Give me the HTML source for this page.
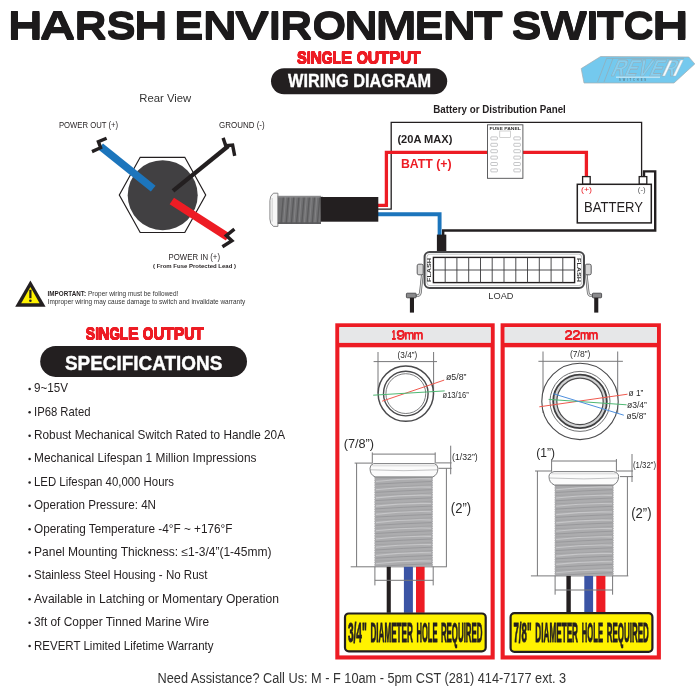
<!DOCTYPE html>
<html><head><meta charset="utf-8"><title>Harsh Environment Switch</title>
<style>
html,body{margin:0;padding:0;background:#fff;}
body{width:700px;height:700px;overflow:hidden;font-family:"Liberation Sans",sans-serif;}
svg{display:block;font-family:"Liberation Sans",sans-serif;will-change:transform;}
</style></head><body>
<svg width="700" height="700" viewBox="0 0 700 700">
<rect width="700" height="700" fill="#fff"/>
<!-- title -->
<g font-size="100" font-weight="bold" fill="#1c1a1b">
<text transform="translate(7.77,38.40) scale(0.4831,0.3837)">H</text>
<text transform="translate(7.77,39.20) scale(0.4831,0.3837)">H</text>
<text transform="translate(7.77,40.00) scale(0.4831,0.3837)">H</text>
<text transform="translate(39.77,38.40) scale(0.4949,0.3837)">A</text>
<text transform="translate(39.77,39.20) scale(0.4949,0.3837)">A</text>
<text transform="translate(39.77,40.00) scale(0.4949,0.3837)">A</text>
<text transform="translate(74.42,38.40) scale(0.4458,0.3837)">R</text>
<text transform="translate(74.42,39.20) scale(0.4458,0.3837)">R</text>
<text transform="translate(74.42,40.00) scale(0.4458,0.3837)">R</text>
<text transform="translate(106.53,38.40) scale(0.4406,0.3837)">S</text>
<text transform="translate(106.53,39.20) scale(0.4406,0.3837)">S</text>
<text transform="translate(106.53,40.00) scale(0.4406,0.3837)">S</text>
<text transform="translate(133.90,38.40) scale(0.4627,0.3837)">H</text>
<text transform="translate(133.90,39.20) scale(0.4627,0.3837)">H</text>
<text transform="translate(133.90,40.00) scale(0.4627,0.3837)">H</text>
<text transform="translate(174.02,38.40) scale(0.4456,0.3837)">E</text>
<text transform="translate(174.02,39.20) scale(0.4456,0.3837)">E</text>
<text transform="translate(174.02,40.00) scale(0.4456,0.3837)">E</text>
<text transform="translate(202.84,38.40) scale(0.4729,0.3837)">N</text>
<text transform="translate(202.84,39.20) scale(0.4729,0.3837)">N</text>
<text transform="translate(202.84,40.00) scale(0.4729,0.3837)">N</text>
<text transform="translate(234.85,38.40) scale(0.5174,0.3837)">V</text>
<text transform="translate(234.85,39.20) scale(0.5174,0.3837)">V</text>
<text transform="translate(234.85,40.00) scale(0.5174,0.3837)">V</text>
<text transform="translate(268.63,38.40) scale(0.4443,0.3837)">I</text>
<text transform="translate(268.63,39.20) scale(0.4443,0.3837)">I</text>
<text transform="translate(268.63,40.00) scale(0.4443,0.3837)">I</text>
<text transform="translate(280.12,38.40) scale(0.4458,0.3837)">R</text>
<text transform="translate(280.12,39.20) scale(0.4458,0.3837)">R</text>
<text transform="translate(280.12,40.00) scale(0.4458,0.3837)">R</text>
<text transform="translate(312.21,38.40) scale(0.4375,0.3837)">O</text>
<text transform="translate(312.21,39.20) scale(0.4375,0.3837)">O</text>
<text transform="translate(312.21,40.00) scale(0.4375,0.3837)">O</text>
<text transform="translate(344.37,38.40) scale(0.4678,0.3837)">N</text>
<text transform="translate(344.37,39.20) scale(0.4678,0.3837)">N</text>
<text transform="translate(344.37,40.00) scale(0.4678,0.3837)">N</text>
<text transform="translate(375.58,38.40) scale(0.4963,0.3837)">M</text>
<text transform="translate(375.58,39.20) scale(0.4963,0.3837)">M</text>
<text transform="translate(375.58,40.00) scale(0.4963,0.3837)">M</text>
<text transform="translate(414.48,38.40) scale(0.4367,0.3837)">E</text>
<text transform="translate(414.48,39.20) scale(0.4367,0.3837)">E</text>
<text transform="translate(414.48,40.00) scale(0.4367,0.3837)">E</text>
<text transform="translate(442.63,38.40) scale(0.4593,0.3837)">N</text>
<text transform="translate(442.63,39.20) scale(0.4593,0.3837)">N</text>
<text transform="translate(442.63,40.00) scale(0.4593,0.3837)">N</text>
<text transform="translate(473.46,38.40) scale(0.4806,0.3837)">T</text>
<text transform="translate(473.46,39.20) scale(0.4806,0.3837)">T</text>
<text transform="translate(473.46,40.00) scale(0.4806,0.3837)">T</text>
<text transform="translate(511.60,38.40) scale(0.4523,0.3837)">S</text>
<text transform="translate(511.60,39.20) scale(0.4523,0.3837)">S</text>
<text transform="translate(511.60,40.00) scale(0.4523,0.3837)">S</text>
<text transform="translate(540.55,38.40) scale(0.4937,0.3837)">W</text>
<text transform="translate(540.55,39.20) scale(0.4937,0.3837)">W</text>
<text transform="translate(540.55,40.00) scale(0.4937,0.3837)">W</text>
<text transform="translate(586.03,38.40) scale(0.4582,0.3837)">I</text>
<text transform="translate(586.03,39.20) scale(0.4582,0.3837)">I</text>
<text transform="translate(586.03,40.00) scale(0.4582,0.3837)">I</text>
<text transform="translate(596.60,38.40) scale(0.4466,0.3837)">T</text>
<text transform="translate(596.60,39.20) scale(0.4466,0.3837)">T</text>
<text transform="translate(596.60,40.00) scale(0.4466,0.3837)">T</text>
<text transform="translate(623.36,38.40) scale(0.4252,0.3837)">C</text>
<text transform="translate(623.36,39.20) scale(0.4252,0.3837)">C</text>
<text transform="translate(623.36,40.00) scale(0.4252,0.3837)">C</text>
<text transform="translate(652.33,38.40) scale(0.5035,0.3837)">H</text>
<text transform="translate(652.33,39.20) scale(0.5035,0.3837)">H</text>
<text transform="translate(652.33,40.00) scale(0.5035,0.3837)">H</text>
</g>
<g font-size="100" font-weight="bold" fill="#ed1c24">
<text transform="translate(296.78,63.40) scale(0.1469,0.1613)">S</text>
<text transform="translate(297.03,63.40) scale(0.1469,0.1613)">S</text>
<text transform="translate(297.28,63.40) scale(0.1469,0.1613)">S</text>
<text transform="translate(296.78,63.80) scale(0.1469,0.1613)">S</text>
<text transform="translate(297.03,63.80) scale(0.1469,0.1613)">S</text>
<text transform="translate(297.28,63.80) scale(0.1469,0.1613)">S</text>
<text transform="translate(296.78,64.20) scale(0.1469,0.1613)">S</text>
<text transform="translate(297.03,64.20) scale(0.1469,0.1613)">S</text>
<text transform="translate(297.28,64.20) scale(0.1469,0.1613)">S</text>
<text transform="translate(306.52,63.40) scale(0.1458,0.1613)">I</text>
<text transform="translate(306.77,63.40) scale(0.1458,0.1613)">I</text>
<text transform="translate(307.02,63.40) scale(0.1458,0.1613)">I</text>
<text transform="translate(306.52,63.80) scale(0.1458,0.1613)">I</text>
<text transform="translate(306.77,63.80) scale(0.1458,0.1613)">I</text>
<text transform="translate(307.02,63.80) scale(0.1458,0.1613)">I</text>
<text transform="translate(306.52,64.20) scale(0.1458,0.1613)">I</text>
<text transform="translate(306.77,64.20) scale(0.1458,0.1613)">I</text>
<text transform="translate(307.02,64.20) scale(0.1458,0.1613)">I</text>
<text transform="translate(310.14,63.40) scale(0.1582,0.1613)">N</text>
<text transform="translate(310.39,63.40) scale(0.1582,0.1613)">N</text>
<text transform="translate(310.64,63.40) scale(0.1582,0.1613)">N</text>
<text transform="translate(310.14,63.80) scale(0.1582,0.1613)">N</text>
<text transform="translate(310.39,63.80) scale(0.1582,0.1613)">N</text>
<text transform="translate(310.64,63.80) scale(0.1582,0.1613)">N</text>
<text transform="translate(310.14,64.20) scale(0.1582,0.1613)">N</text>
<text transform="translate(310.39,64.20) scale(0.1582,0.1613)">N</text>
<text transform="translate(310.64,64.20) scale(0.1582,0.1613)">N</text>
<text transform="translate(321.42,63.40) scale(0.1408,0.1613)">G</text>
<text transform="translate(321.67,63.40) scale(0.1408,0.1613)">G</text>
<text transform="translate(321.92,63.40) scale(0.1408,0.1613)">G</text>
<text transform="translate(321.42,63.80) scale(0.1408,0.1613)">G</text>
<text transform="translate(321.67,63.80) scale(0.1408,0.1613)">G</text>
<text transform="translate(321.92,63.80) scale(0.1408,0.1613)">G</text>
<text transform="translate(321.42,64.20) scale(0.1408,0.1613)">G</text>
<text transform="translate(321.67,64.20) scale(0.1408,0.1613)">G</text>
<text transform="translate(321.92,64.20) scale(0.1408,0.1613)">G</text>
<text transform="translate(332.25,63.40) scale(0.1422,0.1613)">L</text>
<text transform="translate(332.50,63.40) scale(0.1422,0.1613)">L</text>
<text transform="translate(332.75,63.40) scale(0.1422,0.1613)">L</text>
<text transform="translate(332.25,63.80) scale(0.1422,0.1613)">L</text>
<text transform="translate(332.50,63.80) scale(0.1422,0.1613)">L</text>
<text transform="translate(332.75,63.80) scale(0.1422,0.1613)">L</text>
<text transform="translate(332.25,64.20) scale(0.1422,0.1613)">L</text>
<text transform="translate(332.50,64.20) scale(0.1422,0.1613)">L</text>
<text transform="translate(332.75,64.20) scale(0.1422,0.1613)">L</text>
<text transform="translate(340.87,63.40) scale(0.1693,0.1613)">E</text>
<text transform="translate(341.12,63.40) scale(0.1693,0.1613)">E</text>
<text transform="translate(341.37,63.40) scale(0.1693,0.1613)">E</text>
<text transform="translate(340.87,63.80) scale(0.1693,0.1613)">E</text>
<text transform="translate(341.12,63.80) scale(0.1693,0.1613)">E</text>
<text transform="translate(341.37,63.80) scale(0.1693,0.1613)">E</text>
<text transform="translate(340.87,64.20) scale(0.1693,0.1613)">E</text>
<text transform="translate(341.12,64.20) scale(0.1693,0.1613)">E</text>
<text transform="translate(341.37,64.20) scale(0.1693,0.1613)">E</text>
<text transform="translate(356.41,63.40) scale(0.1439,0.1613)">O</text>
<text transform="translate(356.66,63.40) scale(0.1439,0.1613)">O</text>
<text transform="translate(356.91,63.40) scale(0.1439,0.1613)">O</text>
<text transform="translate(356.41,63.80) scale(0.1439,0.1613)">O</text>
<text transform="translate(356.66,63.80) scale(0.1439,0.1613)">O</text>
<text transform="translate(356.91,63.80) scale(0.1439,0.1613)">O</text>
<text transform="translate(356.41,64.20) scale(0.1439,0.1613)">O</text>
<text transform="translate(356.66,64.20) scale(0.1439,0.1613)">O</text>
<text transform="translate(356.91,64.20) scale(0.1439,0.1613)">O</text>
<text transform="translate(367.55,63.40) scale(0.1581,0.1613)">U</text>
<text transform="translate(367.80,63.40) scale(0.1581,0.1613)">U</text>
<text transform="translate(368.05,63.40) scale(0.1581,0.1613)">U</text>
<text transform="translate(367.55,63.80) scale(0.1581,0.1613)">U</text>
<text transform="translate(367.80,63.80) scale(0.1581,0.1613)">U</text>
<text transform="translate(368.05,63.80) scale(0.1581,0.1613)">U</text>
<text transform="translate(367.55,64.20) scale(0.1581,0.1613)">U</text>
<text transform="translate(367.80,64.20) scale(0.1581,0.1613)">U</text>
<text transform="translate(368.05,64.20) scale(0.1581,0.1613)">U</text>
<text transform="translate(378.41,63.40) scale(0.1732,0.1613)">T</text>
<text transform="translate(378.66,63.40) scale(0.1732,0.1613)">T</text>
<text transform="translate(378.91,63.40) scale(0.1732,0.1613)">T</text>
<text transform="translate(378.41,63.80) scale(0.1732,0.1613)">T</text>
<text transform="translate(378.66,63.80) scale(0.1732,0.1613)">T</text>
<text transform="translate(378.91,63.80) scale(0.1732,0.1613)">T</text>
<text transform="translate(378.41,64.20) scale(0.1732,0.1613)">T</text>
<text transform="translate(378.66,64.20) scale(0.1732,0.1613)">T</text>
<text transform="translate(378.91,64.20) scale(0.1732,0.1613)">T</text>
<text transform="translate(388.88,63.40) scale(0.1679,0.1613)">P</text>
<text transform="translate(389.13,63.40) scale(0.1679,0.1613)">P</text>
<text transform="translate(389.38,63.40) scale(0.1679,0.1613)">P</text>
<text transform="translate(388.88,63.80) scale(0.1679,0.1613)">P</text>
<text transform="translate(389.13,63.80) scale(0.1679,0.1613)">P</text>
<text transform="translate(389.38,63.80) scale(0.1679,0.1613)">P</text>
<text transform="translate(388.88,64.20) scale(0.1679,0.1613)">P</text>
<text transform="translate(389.13,64.20) scale(0.1679,0.1613)">P</text>
<text transform="translate(389.38,64.20) scale(0.1679,0.1613)">P</text>
<text transform="translate(399.89,63.40) scale(0.1514,0.1613)">U</text>
<text transform="translate(400.14,63.40) scale(0.1514,0.1613)">U</text>
<text transform="translate(400.39,63.40) scale(0.1514,0.1613)">U</text>
<text transform="translate(399.89,63.80) scale(0.1514,0.1613)">U</text>
<text transform="translate(400.14,63.80) scale(0.1514,0.1613)">U</text>
<text transform="translate(400.39,63.80) scale(0.1514,0.1613)">U</text>
<text transform="translate(399.89,64.20) scale(0.1514,0.1613)">U</text>
<text transform="translate(400.14,64.20) scale(0.1514,0.1613)">U</text>
<text transform="translate(400.39,64.20) scale(0.1514,0.1613)">U</text>
<text transform="translate(410.11,63.40) scale(0.1698,0.1613)">T</text>
<text transform="translate(410.36,63.40) scale(0.1698,0.1613)">T</text>
<text transform="translate(410.61,63.40) scale(0.1698,0.1613)">T</text>
<text transform="translate(410.11,63.80) scale(0.1698,0.1613)">T</text>
<text transform="translate(410.36,63.80) scale(0.1698,0.1613)">T</text>
<text transform="translate(410.61,63.80) scale(0.1698,0.1613)">T</text>
<text transform="translate(410.11,64.20) scale(0.1698,0.1613)">T</text>
<text transform="translate(410.36,64.20) scale(0.1698,0.1613)">T</text>
<text transform="translate(410.61,64.20) scale(0.1698,0.1613)">T</text>
</g>
<rect x="271" y="68.3" width="176.2" height="26" rx="13" fill="#231f20"/>
<text x="288.0" y="87.3" font-size="17.6" fill="#fff" font-weight="bold" text-anchor="start" textLength="143" lengthAdjust="spacingAndGlyphs" stroke="#fff" stroke-width="0.35">WIRING DIAGRAM</text>
<!-- logo -->
<g>
<polygon points="600.6,56.5 688.8,57 694.8,63.9 674,83 584,83 581.2,68.6" fill="#74c9ee" stroke="#a3acb0" stroke-width="0.7" stroke-linejoin="round"/>
<path d="M606.6 58.4 L597.6 82 M613 58.4 L604 82 M606.6 58.4 H684" stroke="#97a9b2" stroke-width="0.7" fill="none"/>
<g transform="translate(610,75.6) skewX(-24)">
<text x="0" y="0" font-size="23.5" font-weight="bold" textLength="64" lengthAdjust="spacingAndGlyphs" fill="#86cff0" stroke="#97a9b2" stroke-width="0.6">REVER</text>
</g>
<polygon points="669.6,60.4 672.2,60.4 665,76 662.4,76" fill="#f4fbfe" stroke="#a9b7bd" stroke-width="0.4"/>
<polygon points="680.6,60 683.4,60 675.8,76 673,76" fill="#f4fbfe" stroke="#a9b7bd" stroke-width="0.4"/>
<rect x="616" y="76.7" width="44" height="0.9" fill="#e4f4fb"/>
<text x="619" y="80.8" font-size="2.6" font-weight="bold" fill="#5f7f8c" textLength="27" lengthAdjust="spacing">SWITCHES</text>
</g>
<!-- rear view -->
<text x="165.3" y="102.3" font-size="11.3" fill="#333" font-weight="normal" text-anchor="middle" >Rear View</text>
<text x="58.9" y="127.7" font-size="9.6" fill="#231f20" font-weight="normal" text-anchor="start" textLength="59.3" lengthAdjust="spacingAndGlyphs" >POWER OUT (+)</text>
<text x="219" y="127.7" font-size="9.6" fill="#231f20" font-weight="normal" text-anchor="start" textLength="45.6" lengthAdjust="spacingAndGlyphs" >GROUND (-)</text>
<polygon points="119.3,195 140.2,157.3 184.8,157.3 205.7,195 184.8,232.5 140.2,232.5" fill="#fff" stroke="#231f20" stroke-width="1.2"/>
<circle cx="162.7" cy="195.2" r="35" fill="#414042"/>
<line x1="100.6" y1="146.5" x2="153.2" y2="188.6" stroke="#1c75bc" stroke-width="7.6"/>
<path d="M92 151.6 L100.6 147.7 L98.4 141.7 L106.6 138.3" fill="none" stroke="#231f20" stroke-width="3.4" stroke-linejoin="miter"/>
<line x1="173" y1="190.8" x2="228.3" y2="146" stroke="#231f20" stroke-width="4.3"/>
<path d="M223.1 137.9 L225.7 145.6 L232.6 145.1 L234.7 155.9" fill="none" stroke="#231f20" stroke-width="3.4" stroke-linejoin="miter"/>
<line x1="171.8" y1="201" x2="228" y2="237.1" stroke="#ed1c24" stroke-width="8"/>
<path d="M234.4 229.1 L226.3 235.6 L231.9 240.7 L222.4 246.7" fill="none" stroke="#231f20" stroke-width="3.4" stroke-linejoin="miter"/>
<text x="168.6" y="260.4" font-size="9.6" fill="#231f20" font-weight="normal" text-anchor="start" textLength="51.4" lengthAdjust="spacingAndGlyphs" >POWER IN (+)</text>
<text x="153" y="268" font-size="6.1" fill="#231f20" font-weight="bold" text-anchor="start" textLength="83" lengthAdjust="spacingAndGlyphs" >( From Fuse Protected Lead )</text>
<!-- warning -->
<polygon points="30.4,280.6 45.6,306.8 15.2,306.8" fill="#231f20"/>
<polygon points="30.4,287 39.6,303.2 21.2,303.2" fill="#fff200"/>
<rect x="29.3" y="289.8" width="2.2" height="8.4" fill="#231f20"/><circle cx="30.4" cy="300.7" r="1.3" fill="#231f20"/>
<text x="47.6" y="296" font-size="6.7" fill="#231f20" font-weight="bold" text-anchor="start" textLength="38.4" lengthAdjust="spacingAndGlyphs" >IMPORTANT:</text>
<text x="88" y="296" font-size="6.7" fill="#333" font-weight="normal" text-anchor="start" textLength="90.3" lengthAdjust="spacingAndGlyphs" >Proper wiring must be followed!</text>
<text x="47.6" y="303.9" font-size="6.7" fill="#333" font-weight="normal" text-anchor="start" textLength="197.6" lengthAdjust="spacingAndGlyphs" >Improper wiring may cause damage to switch and invalidate warranty</text>
<!-- wiring diagram -->
<text x="433.3" y="112.6" font-size="10.6" fill="#231f20" font-weight="bold" text-anchor="start" textLength="132.5" lengthAdjust="spacingAndGlyphs" >Battery or Distribution Panel</text>
<path d="M378 209.1 H391.2 V122.4 H641.6 V176.5" fill="none" stroke="#231f20" stroke-width="1.3"/>
<path d="M378 205.4 H386.4 V152.4 H488 M522.6 152.4 H586.4 V176.5" fill="none" stroke="#ed1c24" stroke-width="3.3" stroke-linejoin="miter"/>
<path d="M378 214.2 H439.6 V235" fill="none" stroke="#1c75bc" stroke-width="3.9"/>
<path d="M644 177 V171.4 H655.2 V230.5 H443.2 V236" fill="none" stroke="#231f20" stroke-width="2.4"/>
<text x="397.4" y="143.1" font-size="11.2" fill="#231f20" font-weight="bold" text-anchor="start" textLength="55" lengthAdjust="spacingAndGlyphs" >(20A MAX)</text>
<text x="400.9" y="168.2" font-size="12" fill="#ed1c24" font-weight="bold" text-anchor="start" textLength="50.7" lengthAdjust="spacingAndGlyphs" >BATT (+)</text>
<rect x="487.5" y="124.8" width="35.4" height="53.5" fill="#fff" stroke="#4d4d4f" stroke-width="0.9"/>
<text x="489.4" y="129.8" font-size="4.4" fill="#333" font-weight="bold" text-anchor="start" textLength="31.5" lengthAdjust="spacingAndGlyphs" >FUSE PANEL</text>
<rect x="499.8" y="131" width="10.8" height="6.3" fill="#fff" stroke="#b3b3b3" stroke-width="0.6"/>
<rect x="490.8" y="136.9" width="6.6" height="3" rx="0.8" fill="#fff" stroke="#9d9fa2" stroke-width="0.6"/>
<rect x="513.8" y="136.9" width="6.6" height="3" rx="0.8" fill="#fff" stroke="#9d9fa2" stroke-width="0.6"/>
<rect x="490.8" y="143.3" width="6.6" height="3" rx="0.8" fill="#fff" stroke="#9d9fa2" stroke-width="0.6"/>
<rect x="513.8" y="143.3" width="6.6" height="3" rx="0.8" fill="#fff" stroke="#9d9fa2" stroke-width="0.6"/>
<rect x="490.8" y="149.7" width="6.6" height="3" rx="0.8" fill="#fff" stroke="#9d9fa2" stroke-width="0.6"/>
<rect x="513.8" y="149.7" width="6.6" height="3" rx="0.8" fill="#fff" stroke="#9d9fa2" stroke-width="0.6"/>
<rect x="490.8" y="156.1" width="6.6" height="3" rx="0.8" fill="#fff" stroke="#9d9fa2" stroke-width="0.6"/>
<rect x="513.8" y="156.1" width="6.6" height="3" rx="0.8" fill="#fff" stroke="#9d9fa2" stroke-width="0.6"/>
<rect x="490.8" y="162.5" width="6.6" height="3" rx="0.8" fill="#fff" stroke="#9d9fa2" stroke-width="0.6"/>
<rect x="513.8" y="162.5" width="6.6" height="3" rx="0.8" fill="#fff" stroke="#9d9fa2" stroke-width="0.6"/>
<rect x="490.8" y="168.9" width="6.6" height="3" rx="0.8" fill="#fff" stroke="#9d9fa2" stroke-width="0.6"/>
<rect x="513.8" y="168.9" width="6.6" height="3" rx="0.8" fill="#fff" stroke="#9d9fa2" stroke-width="0.6"/>
<rect x="577.3" y="184.3" width="74" height="38.6" fill="#fff" stroke="#231f20" stroke-width="1.5"/>
<rect x="582.6" y="176.6" width="7.6" height="7.4" fill="#fff" stroke="#231f20" stroke-width="1.3"/>
<rect x="639.2" y="176.6" width="7.6" height="7.4" fill="#fff" stroke="#231f20" stroke-width="1.3"/>
<text x="581" y="192.4" font-size="7.2" fill="#ed1c24" font-weight="normal" text-anchor="start" textLength="11" lengthAdjust="spacingAndGlyphs" >(+)</text>
<text x="637.8" y="192.4" font-size="7.2" fill="#58595b" font-weight="normal" text-anchor="start" textLength="7.8" lengthAdjust="spacingAndGlyphs" >(-)</text>
<text x="584" y="211.6" font-size="14.2" fill="#231f20" font-weight="normal" text-anchor="start" textLength="59" lengthAdjust="spacingAndGlyphs" >BATTERY</text>
<path d="M273.4 193.2 H277.9 V226.4 H273.4 Q269.9 224 269.9 219 V200.6 Q269.9 195.6 273.4 193.2 Z" fill="#f7f7f7" stroke="#7d7d7f" stroke-width="0.9"/>
<path d="M272.2 198 V221.6" stroke="#cfcfcf" stroke-width="1" fill="none"/>
<rect x="277.8" y="195.9" width="43.2" height="28" fill="#707072"/>
<line x1="283.4" y1="196.2" x2="281.0" y2="223.6" stroke="#5b5b5d" stroke-width="1.3"/>
<line x1="285.6" y1="196.2" x2="283.6" y2="223.6" stroke="#858587" stroke-width="0.9"/>
<line x1="288.6" y1="196.2" x2="286.2" y2="223.6" stroke="#5b5b5d" stroke-width="1.3"/>
<line x1="290.8" y1="196.2" x2="288.8" y2="223.6" stroke="#858587" stroke-width="0.9"/>
<line x1="293.8" y1="196.2" x2="291.4" y2="223.6" stroke="#5b5b5d" stroke-width="1.3"/>
<line x1="296.0" y1="196.2" x2="294.0" y2="223.6" stroke="#858587" stroke-width="0.9"/>
<line x1="299.0" y1="196.2" x2="296.6" y2="223.6" stroke="#5b5b5d" stroke-width="1.3"/>
<line x1="301.2" y1="196.2" x2="299.2" y2="223.6" stroke="#858587" stroke-width="0.9"/>
<line x1="304.2" y1="196.2" x2="301.8" y2="223.6" stroke="#5b5b5d" stroke-width="1.3"/>
<line x1="306.4" y1="196.2" x2="304.4" y2="223.6" stroke="#858587" stroke-width="0.9"/>
<line x1="309.4" y1="196.2" x2="307.0" y2="223.6" stroke="#5b5b5d" stroke-width="1.3"/>
<line x1="311.6" y1="196.2" x2="309.6" y2="223.6" stroke="#858587" stroke-width="0.9"/>
<line x1="314.6" y1="196.2" x2="312.2" y2="223.6" stroke="#5b5b5d" stroke-width="1.3"/>
<line x1="316.8" y1="196.2" x2="314.8" y2="223.6" stroke="#858587" stroke-width="0.9"/>
<line x1="319.8" y1="196.2" x2="317.4" y2="223.6" stroke="#5b5b5d" stroke-width="1.3"/>
<line x1="322.0" y1="196.2" x2="320.0" y2="223.6" stroke="#858587" stroke-width="0.9"/>
<rect x="277.8" y="195.9" width="43.2" height="1.6" fill="#8a8a8c"/>
<rect x="277.8" y="222.3" width="43.2" height="1.6" fill="#5a5a5c"/>
<rect x="320.6" y="197" width="57.7" height="24.7" fill="#231f20"/>
<rect x="436.9" y="234.6" width="9.4" height="16.6" fill="#231f20"/>
<rect x="424.6" y="251.9" width="159.4" height="36" rx="5" fill="#fff" stroke="#48484a" stroke-width="2"/>
<rect x="426.9" y="254.2" width="154.8" height="31.4" rx="3" fill="none" stroke="#9a9c9e" stroke-width="0.6"/>
<rect x="433.4" y="257.4" width="141.2" height="25.2" fill="#fff" stroke="#231f20" stroke-width="1.4"/>
<line x1="433.4" y1="270" x2="574.6" y2="270" stroke="#3a3a3c" stroke-width="0.9"/>
<line x1="445.2" y1="257.4" x2="445.2" y2="282.6" stroke="#3a3a3c" stroke-width="0.9"/>
<line x1="456.9" y1="257.4" x2="456.9" y2="282.6" stroke="#3a3a3c" stroke-width="0.9"/>
<line x1="468.7" y1="257.4" x2="468.7" y2="282.6" stroke="#3a3a3c" stroke-width="0.9"/>
<line x1="480.5" y1="257.4" x2="480.5" y2="282.6" stroke="#3a3a3c" stroke-width="0.9"/>
<line x1="492.2" y1="257.4" x2="492.2" y2="282.6" stroke="#3a3a3c" stroke-width="0.9"/>
<line x1="504.0" y1="257.4" x2="504.0" y2="282.6" stroke="#3a3a3c" stroke-width="0.9"/>
<line x1="515.8" y1="257.4" x2="515.8" y2="282.6" stroke="#3a3a3c" stroke-width="0.9"/>
<line x1="527.5" y1="257.4" x2="527.5" y2="282.6" stroke="#3a3a3c" stroke-width="0.9"/>
<line x1="539.3" y1="257.4" x2="539.3" y2="282.6" stroke="#3a3a3c" stroke-width="0.9"/>
<line x1="551.1" y1="257.4" x2="551.1" y2="282.6" stroke="#3a3a3c" stroke-width="0.9"/>
<line x1="562.8" y1="257.4" x2="562.8" y2="282.6" stroke="#3a3a3c" stroke-width="0.9"/>
<text transform="translate(430.9,282) rotate(-90)" font-size="5.4" font-weight="bold" fill="#333" textLength="24" lengthAdjust="spacingAndGlyphs">FLASH</text>
<text transform="translate(577.2,258) rotate(90)" font-size="5.4" font-weight="bold" fill="#333" textLength="24" lengthAdjust="spacingAndGlyphs">FLASH</text>
<path d="M422.4 274 L420.4 292.6 Q420 295.6 417 295.8 L408 296" fill="none" stroke="#5f6062" stroke-width="2.6"/>
<path d="M422.4 274 L420.4 292.6 Q420 295.6 417 295.8 L408 296" fill="none" stroke="#d9d9d9" stroke-width="1.2"/>
<rect x="417.2" y="264.2" width="6" height="10.6" rx="1.6" fill="#d4d4d4" stroke="#4d4d4f" stroke-width="0.9"/>
<rect x="406.4" y="293.2" width="9.8" height="4.6" rx="0.8" fill="#8a8a8c" stroke="#3a3a3c" stroke-width="0.8"/>
<rect x="409.9" y="297.8" width="4.1" height="14.8" fill="#231f20"/>
<path d="M586.2 274 L588.2 292.6 Q588.6 295.6 591.6 295.8 L600.6 296" fill="none" stroke="#5f6062" stroke-width="2.6"/>
<path d="M586.2 274 L588.2 292.6 Q588.6 295.6 591.6 295.8 L600.6 296" fill="none" stroke="#d9d9d9" stroke-width="1.2"/>
<rect x="585.2" y="264.2" width="6" height="10.6" rx="1.6" fill="#d4d4d4" stroke="#4d4d4f" stroke-width="0.9"/>
<rect x="592.4" y="293.2" width="9.2" height="4.6" rx="0.8" fill="#8a8a8c" stroke="#3a3a3c" stroke-width="0.8"/>
<rect x="594.2" y="297.8" width="4.1" height="14.8" fill="#231f20"/>
<text x="488.3" y="299" font-size="9.6" fill="#333" font-weight="normal" text-anchor="start" textLength="25.2" lengthAdjust="spacingAndGlyphs" >LOAD</text>
<!-- specs -->
<g font-size="100" font-weight="bold" fill="#ed1c24">
<text transform="translate(85.60,339.20) scale(0.1399,0.1672)">S</text>
<text transform="translate(85.85,339.20) scale(0.1399,0.1672)">S</text>
<text transform="translate(86.10,339.20) scale(0.1399,0.1672)">S</text>
<text transform="translate(85.60,339.60) scale(0.1399,0.1672)">S</text>
<text transform="translate(85.85,339.60) scale(0.1399,0.1672)">S</text>
<text transform="translate(86.10,339.60) scale(0.1399,0.1672)">S</text>
<text transform="translate(85.60,340.00) scale(0.1399,0.1672)">S</text>
<text transform="translate(85.85,340.00) scale(0.1399,0.1672)">S</text>
<text transform="translate(86.10,340.00) scale(0.1399,0.1672)">S</text>
<text transform="translate(94.91,339.20) scale(0.1376,0.1672)">I</text>
<text transform="translate(95.16,339.20) scale(0.1376,0.1672)">I</text>
<text transform="translate(95.41,339.20) scale(0.1376,0.1672)">I</text>
<text transform="translate(94.91,339.60) scale(0.1376,0.1672)">I</text>
<text transform="translate(95.16,339.60) scale(0.1376,0.1672)">I</text>
<text transform="translate(95.41,339.60) scale(0.1376,0.1672)">I</text>
<text transform="translate(94.91,340.00) scale(0.1376,0.1672)">I</text>
<text transform="translate(95.16,340.00) scale(0.1376,0.1672)">I</text>
<text transform="translate(95.41,340.00) scale(0.1376,0.1672)">I</text>
<text transform="translate(98.36,339.20) scale(0.1506,0.1672)">N</text>
<text transform="translate(98.61,339.20) scale(0.1506,0.1672)">N</text>
<text transform="translate(98.86,339.20) scale(0.1506,0.1672)">N</text>
<text transform="translate(98.36,339.60) scale(0.1506,0.1672)">N</text>
<text transform="translate(98.61,339.60) scale(0.1506,0.1672)">N</text>
<text transform="translate(98.86,339.60) scale(0.1506,0.1672)">N</text>
<text transform="translate(98.36,340.00) scale(0.1506,0.1672)">N</text>
<text transform="translate(98.61,340.00) scale(0.1506,0.1672)">N</text>
<text transform="translate(98.86,340.00) scale(0.1506,0.1672)">N</text>
<text transform="translate(109.13,339.20) scale(0.1341,0.1672)">G</text>
<text transform="translate(109.38,339.20) scale(0.1341,0.1672)">G</text>
<text transform="translate(109.63,339.20) scale(0.1341,0.1672)">G</text>
<text transform="translate(109.13,339.60) scale(0.1341,0.1672)">G</text>
<text transform="translate(109.38,339.60) scale(0.1341,0.1672)">G</text>
<text transform="translate(109.63,339.60) scale(0.1341,0.1672)">G</text>
<text transform="translate(109.13,340.00) scale(0.1341,0.1672)">G</text>
<text transform="translate(109.38,340.00) scale(0.1341,0.1672)">G</text>
<text transform="translate(109.63,340.00) scale(0.1341,0.1672)">G</text>
<text transform="translate(119.46,339.20) scale(0.1354,0.1672)">L</text>
<text transform="translate(119.71,339.20) scale(0.1354,0.1672)">L</text>
<text transform="translate(119.96,339.20) scale(0.1354,0.1672)">L</text>
<text transform="translate(119.46,339.60) scale(0.1354,0.1672)">L</text>
<text transform="translate(119.71,339.60) scale(0.1354,0.1672)">L</text>
<text transform="translate(119.96,339.60) scale(0.1354,0.1672)">L</text>
<text transform="translate(119.46,340.00) scale(0.1354,0.1672)">L</text>
<text transform="translate(119.71,340.00) scale(0.1354,0.1672)">L</text>
<text transform="translate(119.96,340.00) scale(0.1354,0.1672)">L</text>
<text transform="translate(127.69,339.20) scale(0.1613,0.1672)">E</text>
<text transform="translate(127.94,339.20) scale(0.1613,0.1672)">E</text>
<text transform="translate(128.19,339.20) scale(0.1613,0.1672)">E</text>
<text transform="translate(127.69,339.60) scale(0.1613,0.1672)">E</text>
<text transform="translate(127.94,339.60) scale(0.1613,0.1672)">E</text>
<text transform="translate(128.19,339.60) scale(0.1613,0.1672)">E</text>
<text transform="translate(127.69,340.00) scale(0.1613,0.1672)">E</text>
<text transform="translate(127.94,340.00) scale(0.1613,0.1672)">E</text>
<text transform="translate(128.19,340.00) scale(0.1613,0.1672)">E</text>
<text transform="translate(142.53,339.20) scale(0.1371,0.1672)">O</text>
<text transform="translate(142.78,339.20) scale(0.1371,0.1672)">O</text>
<text transform="translate(143.03,339.20) scale(0.1371,0.1672)">O</text>
<text transform="translate(142.53,339.60) scale(0.1371,0.1672)">O</text>
<text transform="translate(142.78,339.60) scale(0.1371,0.1672)">O</text>
<text transform="translate(143.03,339.60) scale(0.1371,0.1672)">O</text>
<text transform="translate(142.53,340.00) scale(0.1371,0.1672)">O</text>
<text transform="translate(142.78,340.00) scale(0.1371,0.1672)">O</text>
<text transform="translate(143.03,340.00) scale(0.1371,0.1672)">O</text>
<text transform="translate(153.17,339.20) scale(0.1505,0.1672)">U</text>
<text transform="translate(153.42,339.20) scale(0.1505,0.1672)">U</text>
<text transform="translate(153.67,339.20) scale(0.1505,0.1672)">U</text>
<text transform="translate(153.17,339.60) scale(0.1505,0.1672)">U</text>
<text transform="translate(153.42,339.60) scale(0.1505,0.1672)">U</text>
<text transform="translate(153.67,339.60) scale(0.1505,0.1672)">U</text>
<text transform="translate(153.17,340.00) scale(0.1505,0.1672)">U</text>
<text transform="translate(153.42,340.00) scale(0.1505,0.1672)">U</text>
<text transform="translate(153.67,340.00) scale(0.1505,0.1672)">U</text>
<text transform="translate(163.53,339.20) scale(0.1650,0.1672)">T</text>
<text transform="translate(163.78,339.20) scale(0.1650,0.1672)">T</text>
<text transform="translate(164.03,339.20) scale(0.1650,0.1672)">T</text>
<text transform="translate(163.53,339.60) scale(0.1650,0.1672)">T</text>
<text transform="translate(163.78,339.60) scale(0.1650,0.1672)">T</text>
<text transform="translate(164.03,339.60) scale(0.1650,0.1672)">T</text>
<text transform="translate(163.53,340.00) scale(0.1650,0.1672)">T</text>
<text transform="translate(163.78,340.00) scale(0.1650,0.1672)">T</text>
<text transform="translate(164.03,340.00) scale(0.1650,0.1672)">T</text>
<text transform="translate(173.53,339.20) scale(0.1599,0.1672)">P</text>
<text transform="translate(173.78,339.20) scale(0.1599,0.1672)">P</text>
<text transform="translate(174.03,339.20) scale(0.1599,0.1672)">P</text>
<text transform="translate(173.53,339.60) scale(0.1599,0.1672)">P</text>
<text transform="translate(173.78,339.60) scale(0.1599,0.1672)">P</text>
<text transform="translate(174.03,339.60) scale(0.1599,0.1672)">P</text>
<text transform="translate(173.53,340.00) scale(0.1599,0.1672)">P</text>
<text transform="translate(173.78,340.00) scale(0.1599,0.1672)">P</text>
<text transform="translate(174.03,340.00) scale(0.1599,0.1672)">P</text>
<text transform="translate(184.04,339.20) scale(0.1442,0.1672)">U</text>
<text transform="translate(184.29,339.20) scale(0.1442,0.1672)">U</text>
<text transform="translate(184.54,339.20) scale(0.1442,0.1672)">U</text>
<text transform="translate(184.04,339.60) scale(0.1442,0.1672)">U</text>
<text transform="translate(184.29,339.60) scale(0.1442,0.1672)">U</text>
<text transform="translate(184.54,339.60) scale(0.1442,0.1672)">U</text>
<text transform="translate(184.04,340.00) scale(0.1442,0.1672)">U</text>
<text transform="translate(184.29,340.00) scale(0.1442,0.1672)">U</text>
<text transform="translate(184.54,340.00) scale(0.1442,0.1672)">U</text>
<text transform="translate(193.79,339.20) scale(0.1617,0.1672)">T</text>
<text transform="translate(194.04,339.20) scale(0.1617,0.1672)">T</text>
<text transform="translate(194.29,339.20) scale(0.1617,0.1672)">T</text>
<text transform="translate(193.79,339.60) scale(0.1617,0.1672)">T</text>
<text transform="translate(194.04,339.60) scale(0.1617,0.1672)">T</text>
<text transform="translate(194.29,339.60) scale(0.1617,0.1672)">T</text>
<text transform="translate(193.79,340.00) scale(0.1617,0.1672)">T</text>
<text transform="translate(194.04,340.00) scale(0.1617,0.1672)">T</text>
<text transform="translate(194.29,340.00) scale(0.1617,0.1672)">T</text>
</g>
<rect x="40.2" y="346" width="206.8" height="30.9" rx="15.45" fill="#231f20"/>
<text x="64.9" y="369.5" font-size="20.4" fill="#fff" font-weight="bold" text-anchor="start" textLength="157.4" lengthAdjust="spacingAndGlyphs" stroke="#fff" stroke-width="0.4">SPECIFICATIONS</text>
<circle cx="29.6" cy="388.9" r="1.25" fill="#231f20"/>
<text x="34" y="392.3" font-size="12.2" fill="#231f20" font-weight="normal" text-anchor="start" textLength="34" lengthAdjust="spacingAndGlyphs" >9~15V</text>
<circle cx="29.6" cy="412.3" r="1.25" fill="#231f20"/>
<text x="34" y="415.7" font-size="12.2" fill="#231f20" font-weight="normal" text-anchor="start" textLength="56.5" lengthAdjust="spacingAndGlyphs" >IP68 Rated</text>
<circle cx="29.6" cy="435.7" r="1.25" fill="#231f20"/>
<text x="34" y="439.1" font-size="12.2" fill="#231f20" font-weight="normal" text-anchor="start" textLength="251" lengthAdjust="spacingAndGlyphs" >Robust Mechanical Switch Rated to Handle 20A</text>
<circle cx="29.6" cy="459.0" r="1.25" fill="#231f20"/>
<text x="34" y="462.4" font-size="12.2" fill="#231f20" font-weight="normal" text-anchor="start" textLength="222.5" lengthAdjust="spacingAndGlyphs" >Mechanical Lifespan 1 Million Impressions</text>
<circle cx="29.6" cy="482.4" r="1.25" fill="#231f20"/>
<text x="34" y="485.8" font-size="12.2" fill="#231f20" font-weight="normal" text-anchor="start" textLength="140" lengthAdjust="spacingAndGlyphs" >LED Lifespan 40,000 Hours</text>
<circle cx="29.6" cy="505.8" r="1.25" fill="#231f20"/>
<text x="34" y="509.2" font-size="12.2" fill="#231f20" font-weight="normal" text-anchor="start" textLength="122" lengthAdjust="spacingAndGlyphs" >Operation Pressure: 4N</text>
<circle cx="29.6" cy="529.2" r="1.25" fill="#231f20"/>
<text x="34" y="532.6" font-size="12.2" fill="#231f20" font-weight="normal" text-anchor="start" textLength="198.5" lengthAdjust="spacingAndGlyphs" >Operating Temperature -4°F ~ +176°F</text>
<circle cx="29.6" cy="552.6" r="1.25" fill="#231f20"/>
<text x="34" y="556.0" font-size="12.2" fill="#231f20" font-weight="normal" text-anchor="start" textLength="237.5" lengthAdjust="spacingAndGlyphs" >Panel Mounting Thickness: ≤1-3/4”(1-45mm)</text>
<circle cx="29.6" cy="575.9" r="1.25" fill="#231f20"/>
<text x="34" y="579.3" font-size="12.2" fill="#231f20" font-weight="normal" text-anchor="start" textLength="173.5" lengthAdjust="spacingAndGlyphs" >Stainless Steel Housing - No Rust</text>
<circle cx="29.6" cy="599.3" r="1.25" fill="#231f20"/>
<text x="34" y="602.7" font-size="12.2" fill="#231f20" font-weight="normal" text-anchor="start" textLength="245" lengthAdjust="spacingAndGlyphs" >Available in Latching or Momentary Operation</text>
<circle cx="29.6" cy="622.7" r="1.25" fill="#231f20"/>
<text x="34" y="626.1" font-size="12.2" fill="#231f20" font-weight="normal" text-anchor="start" textLength="175" lengthAdjust="spacingAndGlyphs" >3ft of Copper Tinned Marine Wire</text>
<circle cx="29.6" cy="646.1" r="1.25" fill="#231f20"/>
<text x="34" y="649.5" font-size="12.2" fill="#231f20" font-weight="normal" text-anchor="start" textLength="179.5" lengthAdjust="spacingAndGlyphs" >REVERT Limited Lifetime Warranty</text>
<text x="157.6" y="683.1" font-size="14" fill="#333" font-weight="normal" text-anchor="start" textLength="408.6" lengthAdjust="spacingAndGlyphs" >Need Assistance? Call Us: M - F 10am - 5pm CST (281) 414-7177 ext. 3</text>
<rect x="337.35" y="325.35" width="155.29999999999998" height="332.09999999999997" fill="#fff" stroke="#ed1c24" stroke-width="4.1"/>
<rect x="339.40000000000003" y="327" width="151.2" height="16.2" fill="#e6e7e8"/>
<rect x="337.35" y="342.9" width="155.29999999999998" height="4.4" fill="#ed1c24"/>
<g font-size="100" font-weight="normal" fill="#ed1c24">
<text transform="translate(391.46,339.10) scale(0.0835,0.1250)">1</text>
<text transform="translate(391.46,339.40) scale(0.0835,0.1250)">1</text>
<text transform="translate(391.46,339.70) scale(0.0835,0.1250)">1</text>
<text transform="translate(396.01,339.10) scale(0.1689,0.1250)">9</text>
<text transform="translate(396.01,339.40) scale(0.1689,0.1250)">9</text>
<text transform="translate(396.01,339.70) scale(0.1689,0.1250)">9</text>
<text transform="translate(404.62,339.10) scale(0.1170,0.1250)">m</text>
<text transform="translate(404.62,339.40) scale(0.1170,0.1250)">m</text>
<text transform="translate(404.62,339.70) scale(0.1170,0.1250)">m</text>
<text transform="translate(413.52,339.10) scale(0.1170,0.1250)">m</text>
<text transform="translate(413.52,339.40) scale(0.1170,0.1250)">m</text>
<text transform="translate(413.52,339.70) scale(0.1170,0.1250)">m</text>
</g>
<text x="397.6" y="358" font-size="9" fill="#2b2b2b" font-weight="normal" text-anchor="start" textLength="19.7" lengthAdjust="spacingAndGlyphs" >(3/4”)</text>
<path d="M378 352 V393 M433.6 352 V393 M373.6 361.6 H437" stroke="#78787a" stroke-width="1.0" fill="none"/>
<circle cx="405.8" cy="393.6" r="27.7" fill="#fff" stroke="#4a4a4c" stroke-width="1.5"/>
<circle cx="405.8" cy="393.6" r="22.3" fill="none" stroke="#4a4a4c" stroke-width="1.4"/>
<circle cx="405.8" cy="393.6" r="19.9" fill="none" stroke="#6d6e70" stroke-width="0.9"/>
<line x1="382.1" y1="401.2" x2="444.2" y2="380.1" stroke="#f05a4f" stroke-width="1"/>
<line x1="373.2" y1="395.2" x2="444.7" y2="390.9" stroke="#4fb873" stroke-width="1"/>
<text x="445.9" y="380.0" font-size="8.8" fill="#2b2b2b" font-weight="normal" text-anchor="start" textLength="20.6" lengthAdjust="spacingAndGlyphs" >ø5/8”</text>
<text x="442.5" y="397.7" font-size="8.8" fill="#2b2b2b" font-weight="normal" text-anchor="start" textLength="26.2" lengthAdjust="spacingAndGlyphs" >ø13/16”</text>
<text x="343.7" y="448.4" font-size="12.9" fill="#2b2b2b" font-weight="normal" text-anchor="start" textLength="30.4" lengthAdjust="spacingAndGlyphs" >(7/8”)</text>
<path d="M372.3 452.4 V463.4 M435.2 452.4 V463.4 M372.3 454.1 H435.2" stroke="#78787a" stroke-width="1.0" fill="none"/>
<text x="452" y="459.8" font-size="9.2" fill="#2b2b2b" font-weight="normal" text-anchor="start" textLength="25.7" lengthAdjust="spacingAndGlyphs" >(1/32”)</text>
<path d="M450.7 445.7 V474.3 M435.7 462.9 H451.6 M438.6 468.3 H451.6 M446.4 468.3 V566.8" stroke="#78787a" stroke-width="1.0" fill="none"/>
<path d="M356.6 463.1 V566.8 M354.6 463.1 H372.3 M350.7 566.8 H446.8" stroke="#78787a" stroke-width="1.0" fill="none"/>
<rect x="375.4" y="476.4" width="56.4" height="90.4" fill="#acacae"/>
<path d="M375.4 481.5 Q403.6 478.0 431.8 478.9" stroke="#c6c6c8" stroke-width="1.1" fill="none"/>
<path d="M375.4 484.2 Q403.6 482.5 431.8 481.5" stroke="#8c8c8e" stroke-width="0.6" fill="none"/>
<path d="M375.4 478.9 Q403.6 478.5 431.8 476.6" stroke="#9b9b9d" stroke-width="0.5" fill="none"/>
<path d="M375.4 489.7 Q403.6 486.3 431.8 487.1" stroke="#c6c6c8" stroke-width="1.1" fill="none"/>
<path d="M375.4 492.4 Q403.6 490.7 431.8 489.7" stroke="#8c8c8e" stroke-width="0.6" fill="none"/>
<path d="M375.4 487.1 Q403.6 486.7 431.8 484.8" stroke="#9b9b9d" stroke-width="0.5" fill="none"/>
<path d="M375.4 497.9 Q403.6 494.5 431.8 495.3" stroke="#c6c6c8" stroke-width="1.1" fill="none"/>
<path d="M375.4 500.6 Q403.6 498.9 431.8 497.9" stroke="#8c8c8e" stroke-width="0.6" fill="none"/>
<path d="M375.4 495.3 Q403.6 494.9 431.8 493.0" stroke="#9b9b9d" stroke-width="0.5" fill="none"/>
<path d="M375.4 506.1 Q403.6 502.7 431.8 503.5" stroke="#c6c6c8" stroke-width="1.1" fill="none"/>
<path d="M375.4 508.9 Q403.6 507.1 431.8 506.1" stroke="#8c8c8e" stroke-width="0.6" fill="none"/>
<path d="M375.4 503.5 Q403.6 503.1 431.8 501.2" stroke="#9b9b9d" stroke-width="0.5" fill="none"/>
<path d="M375.4 514.4 Q403.6 510.9 431.8 511.7" stroke="#c6c6c8" stroke-width="1.1" fill="none"/>
<path d="M375.4 517.1 Q403.6 515.4 431.8 514.4" stroke="#8c8c8e" stroke-width="0.6" fill="none"/>
<path d="M375.4 511.7 Q403.6 511.3 431.8 509.4" stroke="#9b9b9d" stroke-width="0.5" fill="none"/>
<path d="M375.4 522.6 Q403.6 519.1 431.8 520.0" stroke="#c6c6c8" stroke-width="1.1" fill="none"/>
<path d="M375.4 525.3 Q403.6 523.6 431.8 522.6" stroke="#8c8c8e" stroke-width="0.6" fill="none"/>
<path d="M375.4 520.0 Q403.6 519.5 431.8 517.7" stroke="#9b9b9d" stroke-width="0.5" fill="none"/>
<path d="M375.4 530.8 Q403.6 527.4 431.8 528.2" stroke="#c6c6c8" stroke-width="1.1" fill="none"/>
<path d="M375.4 533.5 Q403.6 531.8 431.8 530.8" stroke="#8c8c8e" stroke-width="0.6" fill="none"/>
<path d="M375.4 528.2 Q403.6 527.8 431.8 525.9" stroke="#9b9b9d" stroke-width="0.5" fill="none"/>
<path d="M375.4 539.0 Q403.6 535.6 431.8 536.4" stroke="#c6c6c8" stroke-width="1.1" fill="none"/>
<path d="M375.4 541.7 Q403.6 540.0 431.8 539.0" stroke="#8c8c8e" stroke-width="0.6" fill="none"/>
<path d="M375.4 536.4 Q403.6 536.0 431.8 534.1" stroke="#9b9b9d" stroke-width="0.5" fill="none"/>
<path d="M375.4 547.2 Q403.6 543.8 431.8 544.6" stroke="#c6c6c8" stroke-width="1.1" fill="none"/>
<path d="M375.4 550.0 Q403.6 548.2 431.8 547.2" stroke="#8c8c8e" stroke-width="0.6" fill="none"/>
<path d="M375.4 544.6 Q403.6 544.2 431.8 542.3" stroke="#9b9b9d" stroke-width="0.5" fill="none"/>
<path d="M375.4 555.5 Q403.6 552.0 431.8 552.8" stroke="#c6c6c8" stroke-width="1.1" fill="none"/>
<path d="M375.4 558.2 Q403.6 556.4 431.8 555.5" stroke="#8c8c8e" stroke-width="0.6" fill="none"/>
<path d="M375.4 552.8 Q403.6 552.4 431.8 550.5" stroke="#9b9b9d" stroke-width="0.5" fill="none"/>
<path d="M375.4 563.7 Q403.6 560.2 431.8 561.0" stroke="#c6c6c8" stroke-width="1.1" fill="none"/>
<path d="M375.4 566.4 Q403.6 564.7 431.8 563.7" stroke="#8c8c8e" stroke-width="0.6" fill="none"/>
<path d="M375.4 561.0 Q403.6 560.6 431.8 558.7" stroke="#9b9b9d" stroke-width="0.5" fill="none"/>
<path d="M375.4 476.4 L374.4 477.25 L375.4 478.11 L374.4 478.96 L375.4 479.81 L374.4 480.66 L375.4 481.52 L374.4 482.37 L375.4 483.22 L374.4 484.08 L375.4 484.93 L374.4 485.78 L375.4 486.63 L374.4 487.49 L375.4 488.34 L374.4 489.19 L375.4 490.05 L374.4 490.90 L375.4 491.75 L374.4 492.60 L375.4 493.46 L374.4 494.31 L375.4 495.16 L374.4 496.02 L375.4 496.87 L374.4 497.72 L375.4 498.57 L374.4 499.43 L375.4 500.28 L374.4 501.13 L375.4 501.98 L374.4 502.84 L375.4 503.69 L374.4 504.54 L375.4 505.40 L374.4 506.25 L375.4 507.10 L374.4 507.95 L375.4 508.81 L374.4 509.66 L375.4 510.51 L374.4 511.37 L375.4 512.22 L374.4 513.07 L375.4 513.92 L374.4 514.78 L375.4 515.63 L374.4 516.48 L375.4 517.34 L374.4 518.19 L375.4 519.04 L374.4 519.89 L375.4 520.75 L374.4 521.60 L375.4 522.45 L374.4 523.31 L375.4 524.16 L374.4 525.01 L375.4 525.86 L374.4 526.72 L375.4 527.57 L374.4 528.42 L375.4 529.28 L374.4 530.13 L375.4 530.98 L374.4 531.83 L375.4 532.69 L374.4 533.54 L375.4 534.39 L374.4 535.25 L375.4 536.10 L374.4 536.95 L375.4 537.80 L374.4 538.66 L375.4 539.51 L374.4 540.36 L375.4 541.22 L374.4 542.07 L375.4 542.92 L374.4 543.77 L375.4 544.63 L374.4 545.48 L375.4 546.33 L374.4 547.18 L375.4 548.04 L374.4 548.89 L375.4 549.74 L374.4 550.60 L375.4 551.45 L374.4 552.30 L375.4 553.15 L374.4 554.01 L375.4 554.86 L374.4 555.71 L375.4 556.57 L374.4 557.42 L375.4 558.27 L374.4 559.12 L375.4 559.98 L374.4 560.83 L375.4 561.68 L374.4 562.54 L375.4 563.39 L374.4 564.24 L375.4 565.09 L374.4 565.95 L375.4 566.80 Z" fill="#acacae" stroke="#858587" stroke-width="0.35"/>
<path d="M431.8 476.4 L432.8 477.25 L431.8 478.11 L432.8 478.96 L431.8 479.81 L432.8 480.66 L431.8 481.52 L432.8 482.37 L431.8 483.22 L432.8 484.08 L431.8 484.93 L432.8 485.78 L431.8 486.63 L432.8 487.49 L431.8 488.34 L432.8 489.19 L431.8 490.05 L432.8 490.90 L431.8 491.75 L432.8 492.60 L431.8 493.46 L432.8 494.31 L431.8 495.16 L432.8 496.02 L431.8 496.87 L432.8 497.72 L431.8 498.57 L432.8 499.43 L431.8 500.28 L432.8 501.13 L431.8 501.98 L432.8 502.84 L431.8 503.69 L432.8 504.54 L431.8 505.40 L432.8 506.25 L431.8 507.10 L432.8 507.95 L431.8 508.81 L432.8 509.66 L431.8 510.51 L432.8 511.37 L431.8 512.22 L432.8 513.07 L431.8 513.92 L432.8 514.78 L431.8 515.63 L432.8 516.48 L431.8 517.34 L432.8 518.19 L431.8 519.04 L432.8 519.89 L431.8 520.75 L432.8 521.60 L431.8 522.45 L432.8 523.31 L431.8 524.16 L432.8 525.01 L431.8 525.86 L432.8 526.72 L431.8 527.57 L432.8 528.42 L431.8 529.28 L432.8 530.13 L431.8 530.98 L432.8 531.83 L431.8 532.69 L432.8 533.54 L431.8 534.39 L432.8 535.25 L431.8 536.10 L432.8 536.95 L431.8 537.80 L432.8 538.66 L431.8 539.51 L432.8 540.36 L431.8 541.22 L432.8 542.07 L431.8 542.92 L432.8 543.77 L431.8 544.63 L432.8 545.48 L431.8 546.33 L432.8 547.18 L431.8 548.04 L432.8 548.89 L431.8 549.74 L432.8 550.60 L431.8 551.45 L432.8 552.30 L431.8 553.15 L432.8 554.01 L431.8 554.86 L432.8 555.71 L431.8 556.57 L432.8 557.42 L431.8 558.27 L432.8 559.12 L431.8 559.98 L432.8 560.83 L431.8 561.68 L432.8 562.54 L431.8 563.39 L432.8 564.24 L431.8 565.09 L432.8 565.95 L431.8 566.80 Z" fill="#acacae" stroke="#858587" stroke-width="0.35"/>
<path d="M373.6 463.6 H434.29999999999995 Q437.9 464.8 437.9 468.2 Q437.9 474.7 432.9 476.9 H375 Q370 474.7 370 468.2 Q370 464.8 373.6 463.6 Z" fill="#fbfbfb" stroke="#6d6e71" stroke-width="0.9"/>
<path d="M370.8 469.8 Q403.95 471.59999999999997 437.09999999999997 469.8" stroke="#9a9c9e" stroke-width="0.6" fill="none"/>
<path d="M372.2 465.8 H435.7" stroke="#b5b6b8" stroke-width="0.5" fill="none"/>
<text x="450.8" y="513.2" font-size="14" fill="#2b2b2b" font-weight="normal" text-anchor="start" textLength="20.3" lengthAdjust="spacingAndGlyphs" >(2”)</text>
<rect x="386.7" y="566.8" width="4.1" height="46" fill="#231f20"/>
<rect x="403.9" y="566.8" width="9" height="46" fill="#3b54a5"/>
<rect x="416" y="566.8" width="8.6" height="46" fill="#ed1c24"/>
<path d="M374.9 566.8 V585.4 M433.2 566.8 V585.4 M374.9 580.3 H433.2" stroke="#78787a" stroke-width="1.0" fill="none"/>
<rect x="345.0" y="613.5" width="140.7" height="37.9" rx="3.8" fill="#fff200" stroke="#231f20" stroke-width="2.2"/>
<text x="347.9" y="641.9" font-size="27.3" font-weight="bold" fill="#231f20" stroke="#231f20" stroke-width="1.0" textLength="18.9" lengthAdjust="spacingAndGlyphs">3/4"</text>
<text x="370.4" y="641.9" font-size="27.3" font-weight="bold" fill="#231f20" stroke="#231f20" stroke-width="1.0" textLength="42.5" lengthAdjust="spacingAndGlyphs">DIAMETER</text>
<text x="416.5" y="641.9" font-size="27.3" font-weight="bold" fill="#231f20" stroke="#231f20" stroke-width="1.0" textLength="21.0" lengthAdjust="spacingAndGlyphs">HOLE</text>
<text x="440.9" y="641.9" font-size="27.3" font-weight="bold" fill="#231f20" stroke="#231f20" stroke-width="1.0" textLength="41.6" lengthAdjust="spacingAndGlyphs">REQUIRED</text>
<rect x="502.65000000000003" y="325.35" width="156.19999999999996" height="332.09999999999997" fill="#fff" stroke="#ed1c24" stroke-width="4.1"/>
<rect x="504.70000000000005" y="327" width="152.09999999999997" height="16.2" fill="#e6e7e8"/>
<rect x="502.65000000000003" y="342.9" width="156.19999999999996" height="4.4" fill="#ed1c24"/>
<g font-size="100" font-weight="normal" fill="#ed1c24">
<text transform="translate(564.22,339.10) scale(0.1558,0.1250)">2</text>
<text transform="translate(564.22,339.40) scale(0.1558,0.1250)">2</text>
<text transform="translate(564.22,339.70) scale(0.1558,0.1250)">2</text>
<text transform="translate(572.12,339.10) scale(0.1558,0.1250)">2</text>
<text transform="translate(572.12,339.40) scale(0.1558,0.1250)">2</text>
<text transform="translate(572.12,339.70) scale(0.1558,0.1250)">2</text>
<text transform="translate(579.95,339.10) scale(0.1127,0.1250)">m</text>
<text transform="translate(579.95,339.40) scale(0.1127,0.1250)">m</text>
<text transform="translate(579.95,339.70) scale(0.1127,0.1250)">m</text>
<text transform="translate(588.52,339.10) scale(0.1170,0.1250)">m</text>
<text transform="translate(588.52,339.40) scale(0.1170,0.1250)">m</text>
<text transform="translate(588.52,339.70) scale(0.1170,0.1250)">m</text>
</g>
<text x="569.9" y="357.4" font-size="9" fill="#2b2b2b" font-weight="normal" text-anchor="start" textLength="20.5" lengthAdjust="spacingAndGlyphs" >(7/8”)</text>
<path d="M543 351.5 V413 M617.7 351.5 V413 M538.4 361.3 H622.9" stroke="#78787a" stroke-width="1.0" fill="none"/>
<circle cx="580" cy="401.4" r="38.2" fill="#fff" stroke="#4a4a4c" stroke-width="1.1"/>
<circle cx="580" cy="401.4" r="30" fill="none" stroke="#5f6062" stroke-width="0.9"/>
<circle cx="580" cy="401.4" r="25" fill="none" stroke="#d2d3d4" stroke-width="2.6"/>
<circle cx="580" cy="401.4" r="26.8" fill="none" stroke="#3f3f41" stroke-width="1.8"/>
<circle cx="580" cy="401.4" r="23.2" fill="none" stroke="#4a4a4c" stroke-width="1.2"/>
<line x1="539.3" y1="406.8" x2="627.5" y2="394.2" stroke="#f05a4f" stroke-width="1"/>
<line x1="548.6" y1="399.4" x2="626.6" y2="404.8" stroke="#4fb873" stroke-width="1"/>
<line x1="553.2" y1="393.7" x2="623.8" y2="415.2" stroke="#4d8fdd" stroke-width="1"/>
<text x="628.4" y="395.5" font-size="8.6" fill="#2b2b2b" font-weight="normal" text-anchor="start" textLength="15" lengthAdjust="spacingAndGlyphs" >ø 1”</text>
<text x="626.9" y="407.5" font-size="8.6" fill="#2b2b2b" font-weight="normal" text-anchor="start" textLength="20.1" lengthAdjust="spacingAndGlyphs" >ø3/4”</text>
<text x="626.6" y="418.9" font-size="8.6" fill="#2b2b2b" font-weight="normal" text-anchor="start" textLength="19.5" lengthAdjust="spacingAndGlyphs" >ø5/8”</text>
<text x="536.2" y="457" font-size="12.6" fill="#2b2b2b" font-weight="normal" text-anchor="start" textLength="18.7" lengthAdjust="spacingAndGlyphs" >(1”)</text>
<path d="M551.6 459 V471.6 M616.4 459 V471.6 M551.6 461 H616.4" stroke="#78787a" stroke-width="1.0" fill="none"/>
<text x="633" y="467.6" font-size="9.2" fill="#2b2b2b" font-weight="normal" text-anchor="start" textLength="23" lengthAdjust="spacingAndGlyphs" >(1/32”)</text>
<path d="M632 454 V482 M617 471 H633 M620 476.6 H633 M627.4 476.6 V575.9" stroke="#78787a" stroke-width="1.0" fill="none"/>
<path d="M537.4 471 V575.9 M535 471 H551.6 M530.9 575.9 H628.3" stroke="#78787a" stroke-width="1.0" fill="none"/>
<rect x="555.6" y="484.6" width="57.0" height="91.3" fill="#acacae"/>
<path d="M555.6 489.7 Q584.1 486.3 612.6 487.1" stroke="#c6c6c8" stroke-width="1.1" fill="none"/>
<path d="M555.6 492.5 Q584.1 490.7 612.6 489.7" stroke="#8c8c8e" stroke-width="0.6" fill="none"/>
<path d="M555.6 487.1 Q584.1 486.7 612.6 484.8" stroke="#9b9b9d" stroke-width="0.5" fill="none"/>
<path d="M555.6 498.0 Q584.1 494.6 612.6 495.4" stroke="#c6c6c8" stroke-width="1.1" fill="none"/>
<path d="M555.6 500.8 Q584.1 499.0 612.6 498.0" stroke="#8c8c8e" stroke-width="0.6" fill="none"/>
<path d="M555.6 495.4 Q584.1 495.0 612.6 493.1" stroke="#9b9b9d" stroke-width="0.5" fill="none"/>
<path d="M555.6 506.3 Q584.1 502.9 612.6 503.7" stroke="#c6c6c8" stroke-width="1.1" fill="none"/>
<path d="M555.6 509.1 Q584.1 507.3 612.6 506.3" stroke="#8c8c8e" stroke-width="0.6" fill="none"/>
<path d="M555.6 503.7 Q584.1 503.3 612.6 501.4" stroke="#9b9b9d" stroke-width="0.5" fill="none"/>
<path d="M555.6 514.6 Q584.1 511.2 612.6 512.0" stroke="#c6c6c8" stroke-width="1.1" fill="none"/>
<path d="M555.6 517.4 Q584.1 515.6 612.6 514.6" stroke="#8c8c8e" stroke-width="0.6" fill="none"/>
<path d="M555.6 512.0 Q584.1 511.6 612.6 509.7" stroke="#9b9b9d" stroke-width="0.5" fill="none"/>
<path d="M555.6 522.9 Q584.1 519.5 612.6 520.3" stroke="#c6c6c8" stroke-width="1.1" fill="none"/>
<path d="M555.6 525.7 Q584.1 523.9 612.6 522.9" stroke="#8c8c8e" stroke-width="0.6" fill="none"/>
<path d="M555.6 520.3 Q584.1 519.9 612.6 518.0" stroke="#9b9b9d" stroke-width="0.5" fill="none"/>
<path d="M555.6 531.2 Q584.1 527.8 612.6 528.6" stroke="#c6c6c8" stroke-width="1.1" fill="none"/>
<path d="M555.6 534.0 Q584.1 532.2 612.6 531.2" stroke="#8c8c8e" stroke-width="0.6" fill="none"/>
<path d="M555.6 528.6 Q584.1 528.2 612.6 526.3" stroke="#9b9b9d" stroke-width="0.5" fill="none"/>
<path d="M555.6 539.5 Q584.1 536.1 612.6 536.9" stroke="#c6c6c8" stroke-width="1.1" fill="none"/>
<path d="M555.6 542.3 Q584.1 540.5 612.6 539.5" stroke="#8c8c8e" stroke-width="0.6" fill="none"/>
<path d="M555.6 536.9 Q584.1 536.5 612.6 534.6" stroke="#9b9b9d" stroke-width="0.5" fill="none"/>
<path d="M555.6 547.8 Q584.1 544.4 612.6 545.2" stroke="#c6c6c8" stroke-width="1.1" fill="none"/>
<path d="M555.6 550.6 Q584.1 548.8 612.6 547.8" stroke="#8c8c8e" stroke-width="0.6" fill="none"/>
<path d="M555.6 545.2 Q584.1 544.8 612.6 542.9" stroke="#9b9b9d" stroke-width="0.5" fill="none"/>
<path d="M555.6 556.1 Q584.1 552.7 612.6 553.5" stroke="#c6c6c8" stroke-width="1.1" fill="none"/>
<path d="M555.6 558.9 Q584.1 557.1 612.6 556.1" stroke="#8c8c8e" stroke-width="0.6" fill="none"/>
<path d="M555.6 553.5 Q584.1 553.1 612.6 551.2" stroke="#9b9b9d" stroke-width="0.5" fill="none"/>
<path d="M555.6 564.4 Q584.1 561.0 612.6 561.8" stroke="#c6c6c8" stroke-width="1.1" fill="none"/>
<path d="M555.6 567.2 Q584.1 565.4 612.6 564.4" stroke="#8c8c8e" stroke-width="0.6" fill="none"/>
<path d="M555.6 561.8 Q584.1 561.4 612.6 559.5" stroke="#9b9b9d" stroke-width="0.5" fill="none"/>
<path d="M555.6 572.7 Q584.1 569.3 612.6 570.1" stroke="#c6c6c8" stroke-width="1.1" fill="none"/>
<path d="M555.6 575.5 Q584.1 573.7 612.6 572.7" stroke="#8c8c8e" stroke-width="0.6" fill="none"/>
<path d="M555.6 570.1 Q584.1 569.7 612.6 567.8" stroke="#9b9b9d" stroke-width="0.5" fill="none"/>
<path d="M555.6 484.6 L554.6 485.46 L555.6 486.32 L554.6 487.18 L555.6 488.05 L554.6 488.91 L555.6 489.77 L554.6 490.63 L555.6 491.49 L554.6 492.35 L555.6 493.21 L554.6 494.07 L555.6 494.94 L554.6 495.80 L555.6 496.66 L554.6 497.52 L555.6 498.38 L554.6 499.24 L555.6 500.10 L554.6 500.97 L555.6 501.83 L554.6 502.69 L555.6 503.55 L554.6 504.41 L555.6 505.27 L554.6 506.13 L555.6 506.99 L554.6 507.86 L555.6 508.72 L554.6 509.58 L555.6 510.44 L554.6 511.30 L555.6 512.16 L554.6 513.02 L555.6 513.88 L554.6 514.75 L555.6 515.61 L554.6 516.47 L555.6 517.33 L554.6 518.19 L555.6 519.05 L554.6 519.91 L555.6 520.78 L554.6 521.64 L555.6 522.50 L554.6 523.36 L555.6 524.22 L554.6 525.08 L555.6 525.94 L554.6 526.80 L555.6 527.67 L554.6 528.53 L555.6 529.39 L554.6 530.25 L555.6 531.11 L554.6 531.97 L555.6 532.83 L554.6 533.70 L555.6 534.56 L554.6 535.42 L555.6 536.28 L554.6 537.14 L555.6 538.00 L554.6 538.86 L555.6 539.72 L554.6 540.59 L555.6 541.45 L554.6 542.31 L555.6 543.17 L554.6 544.03 L555.6 544.89 L554.6 545.75 L555.6 546.62 L554.6 547.48 L555.6 548.34 L554.6 549.20 L555.6 550.06 L554.6 550.92 L555.6 551.78 L554.6 552.64 L555.6 553.51 L554.6 554.37 L555.6 555.23 L554.6 556.09 L555.6 556.95 L554.6 557.81 L555.6 558.67 L554.6 559.53 L555.6 560.40 L554.6 561.26 L555.6 562.12 L554.6 562.98 L555.6 563.84 L554.6 564.70 L555.6 565.56 L554.6 566.43 L555.6 567.29 L554.6 568.15 L555.6 569.01 L554.6 569.87 L555.6 570.73 L554.6 571.59 L555.6 572.45 L554.6 573.32 L555.6 574.18 L554.6 575.04 L555.6 575.90 Z" fill="#acacae" stroke="#858587" stroke-width="0.35"/>
<path d="M612.6 484.6 L613.6 485.46 L612.6 486.32 L613.6 487.18 L612.6 488.05 L613.6 488.91 L612.6 489.77 L613.6 490.63 L612.6 491.49 L613.6 492.35 L612.6 493.21 L613.6 494.07 L612.6 494.94 L613.6 495.80 L612.6 496.66 L613.6 497.52 L612.6 498.38 L613.6 499.24 L612.6 500.10 L613.6 500.97 L612.6 501.83 L613.6 502.69 L612.6 503.55 L613.6 504.41 L612.6 505.27 L613.6 506.13 L612.6 506.99 L613.6 507.86 L612.6 508.72 L613.6 509.58 L612.6 510.44 L613.6 511.30 L612.6 512.16 L613.6 513.02 L612.6 513.88 L613.6 514.75 L612.6 515.61 L613.6 516.47 L612.6 517.33 L613.6 518.19 L612.6 519.05 L613.6 519.91 L612.6 520.78 L613.6 521.64 L612.6 522.50 L613.6 523.36 L612.6 524.22 L613.6 525.08 L612.6 525.94 L613.6 526.80 L612.6 527.67 L613.6 528.53 L612.6 529.39 L613.6 530.25 L612.6 531.11 L613.6 531.97 L612.6 532.83 L613.6 533.70 L612.6 534.56 L613.6 535.42 L612.6 536.28 L613.6 537.14 L612.6 538.00 L613.6 538.86 L612.6 539.72 L613.6 540.59 L612.6 541.45 L613.6 542.31 L612.6 543.17 L613.6 544.03 L612.6 544.89 L613.6 545.75 L612.6 546.62 L613.6 547.48 L612.6 548.34 L613.6 549.20 L612.6 550.06 L613.6 550.92 L612.6 551.78 L613.6 552.64 L612.6 553.51 L613.6 554.37 L612.6 555.23 L613.6 556.09 L612.6 556.95 L613.6 557.81 L612.6 558.67 L613.6 559.53 L612.6 560.40 L613.6 561.26 L612.6 562.12 L613.6 562.98 L612.6 563.84 L613.6 564.70 L612.6 565.56 L613.6 566.43 L612.6 567.29 L613.6 568.15 L612.6 569.01 L613.6 569.87 L612.6 570.73 L613.6 571.59 L612.6 572.45 L613.6 573.32 L612.6 574.18 L613.6 575.04 L612.6 575.90 Z" fill="#acacae" stroke="#858587" stroke-width="0.35"/>
<path d="M554 471.6 H613.6 Q618.6 472.8 618.6 476.4 Q618.6 482.8 613.2 485 H554.4 Q549 482.8 549 476.4 Q549 472.8 554 471.6 Z" fill="#fbfbfb" stroke="#6d6e71" stroke-width="0.9"/>
<path d="M549.8 478.0 Q583.8 479.79999999999995 617.8000000000001 478.0" stroke="#9a9c9e" stroke-width="0.6" fill="none"/>
<path d="M551.2 473.8 H616.4" stroke="#b5b6b8" stroke-width="0.5" fill="none"/>
<text x="631.2" y="517.8" font-size="14" fill="#2b2b2b" font-weight="normal" text-anchor="start" textLength="20.3" lengthAdjust="spacingAndGlyphs" >(2”)</text>
<rect x="566.4" y="575.9" width="4.4" height="37" fill="#231f20"/>
<rect x="584.3" y="575.9" width="8.8" height="37" fill="#3b54a5"/>
<rect x="596.3" y="575.9" width="9.1" height="37" fill="#ed1c24"/>
<path d="M555.1 575.9 V594.7 M612.6 575.9 V594.7 M555.1 590 H612.6" stroke="#78787a" stroke-width="1.0" fill="none"/>
<rect x="510.6" y="613.1" width="141.8" height="38.7" rx="3.8" fill="#fff200" stroke="#231f20" stroke-width="2.2"/>
<text x="513.4" y="642.3" font-size="27.1" font-weight="bold" fill="#231f20" stroke="#231f20" stroke-width="1.0" textLength="18.1" lengthAdjust="spacingAndGlyphs">7/8"</text>
<text x="535.3" y="642.3" font-size="27.1" font-weight="bold" fill="#231f20" stroke="#231f20" stroke-width="1.0" textLength="42.7" lengthAdjust="spacingAndGlyphs">DIAMETER</text>
<text x="581.8" y="642.3" font-size="27.1" font-weight="bold" fill="#231f20" stroke="#231f20" stroke-width="1.0" textLength="21.2" lengthAdjust="spacingAndGlyphs">HOLE</text>
<text x="606.8" y="642.3" font-size="27.1" font-weight="bold" fill="#231f20" stroke="#231f20" stroke-width="1.0" textLength="42.0" lengthAdjust="spacingAndGlyphs">REQUIRED</text>
</svg></body></html>
